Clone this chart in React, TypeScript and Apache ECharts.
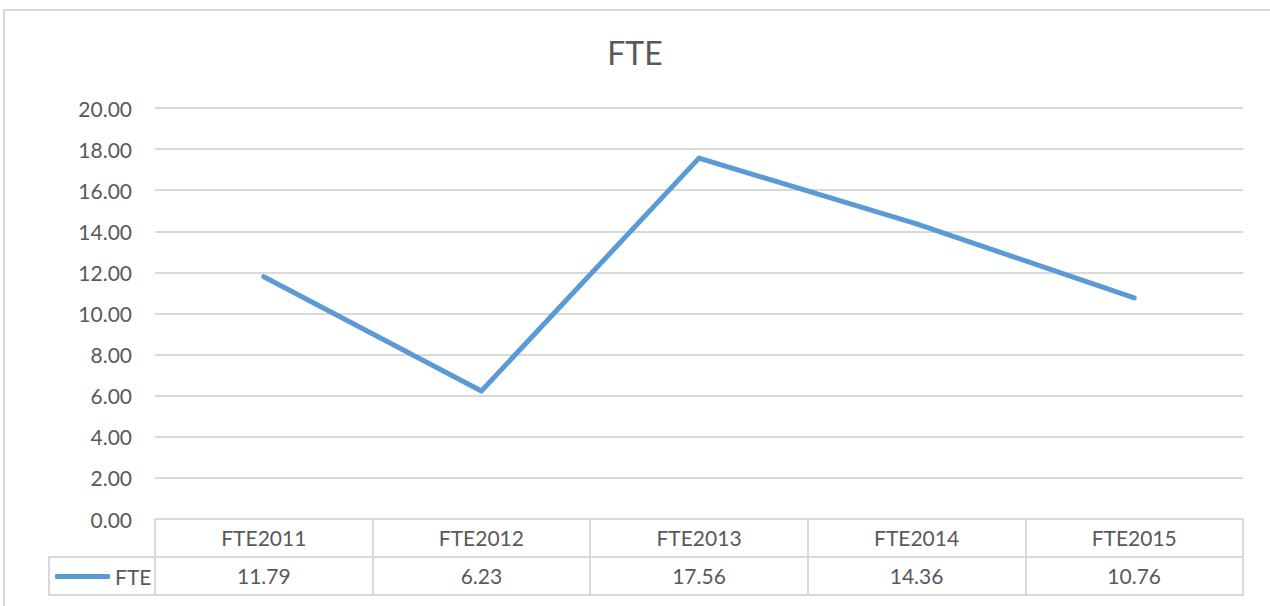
import React, { useEffect, useRef } from "react";
import * as echarts from "echarts";

const categories = ["FTE2011", "FTE2012", "FTE2013", "FTE2014", "FTE2015"];
const seriesName = "FTE";
const values = [11.79, 6.23, 17.56, 14.36, 10.76];
const yTicks = { min: 0, max: 20, interval: 2 };

const TEXT = "#595959";
const GRID = "#d9d9d9";
const LINE = "#5b9bd5";
const FONT = "Lato, 'Open Sans', sans-serif";

export default function App() {
  const ref = useRef<HTMLDivElement>(null);
  useEffect(() => {
    if (!ref.current) return;
    const chart = echarts.init(ref.current, undefined, { renderer: "svg" });
    chart.setOption({
      animation: false,
      backgroundColor: "#ffffff",
      textStyle: { fontFamily: FONT },
      title: {
        text: "FTE",
        left: "center",
        top: 31,
        textStyle: { color: TEXT, fontSize: 32, fontWeight: "normal", fontFamily: FONT },
      },
      grid: { left: 155, right: 27, top: 108, bottom: 87, containLabel: false },
      legend: {
        data: [seriesName],
        left: 55,
        top: 566,
        padding: 0,
        icon: "roundRect",
        itemWidth: 55,
        itemHeight: 5,
        itemGap: 0,
        textStyle: { color: TEXT, fontSize: 21, fontFamily: FONT },
      },
      xAxis: [
        {
          type: "category",
          data: categories,
          position: "bottom",
          axisLine: { show: true, lineStyle: { color: GRID, width: 2 } },
          axisTick: { show: true, length: 76, lineStyle: { color: GRID, width: 2 } },
          axisLabel: { color: TEXT, fontSize: 21, margin: 8, fontFamily: FONT },
        },
        {
          type: "category",
          data: values.map((v) => v.toFixed(2)),
          position: "bottom",
          offset: 38,
          axisLine: { show: true, lineStyle: { color: GRID, width: 2 } },
          axisTick: { show: false },
          axisLabel: { color: TEXT, fontSize: 21, margin: 8, fontFamily: FONT },
        },
      ],
      yAxis: {
        type: "value",
        min: yTicks.min,
        max: yTicks.max,
        interval: yTicks.interval,
        axisLine: { show: false },
        axisTick: { show: false },
        axisLabel: {
          color: TEXT,
          fontSize: 21,
          margin: 23,
          fontFamily: FONT,
          formatter: (v: number) => v.toFixed(2),
        },
        splitLine: { lineStyle: { color: GRID, width: 2 } },
      },
      series: [
        {
          name: seriesName,
          type: "line",
          data: values,
          xAxisIndex: 0,
          showSymbol: false,
          symbol: "none",
          lineStyle: { color: LINE, width: 5, cap: "round", join: "round" },
          itemStyle: { color: LINE },
        },
      ],
      graphic: [
        {
          type: "rect",
          shape: { x: 4, y: 10, width: 1400, height: 800 },
          style: { fill: "none", stroke: GRID, lineWidth: 2 },
          silent: true,
        },
        {
          type: "line",
          shape: { x1: 49, y1: 557, x2: 156, y2: 557 },
          style: { stroke: GRID, lineWidth: 2 },
          silent: true,
        },
        {
          type: "line",
          shape: { x1: 49, y1: 595, x2: 1244, y2: 595 },
          style: { stroke: GRID, lineWidth: 2 },
          silent: true,
        },
        {
          type: "line",
          shape: { x1: 49, y1: 556, x2: 49, y2: 596 },
          style: { stroke: GRID, lineWidth: 2 },
          silent: true,
        },
      ],
    });
    return () => chart.dispose();
  }, []);
  return (
    <div
      ref={ref}
      style={{ position: "fixed", left: 0, top: 0, width: 1270, height: 606 }}
    />
  );
}
